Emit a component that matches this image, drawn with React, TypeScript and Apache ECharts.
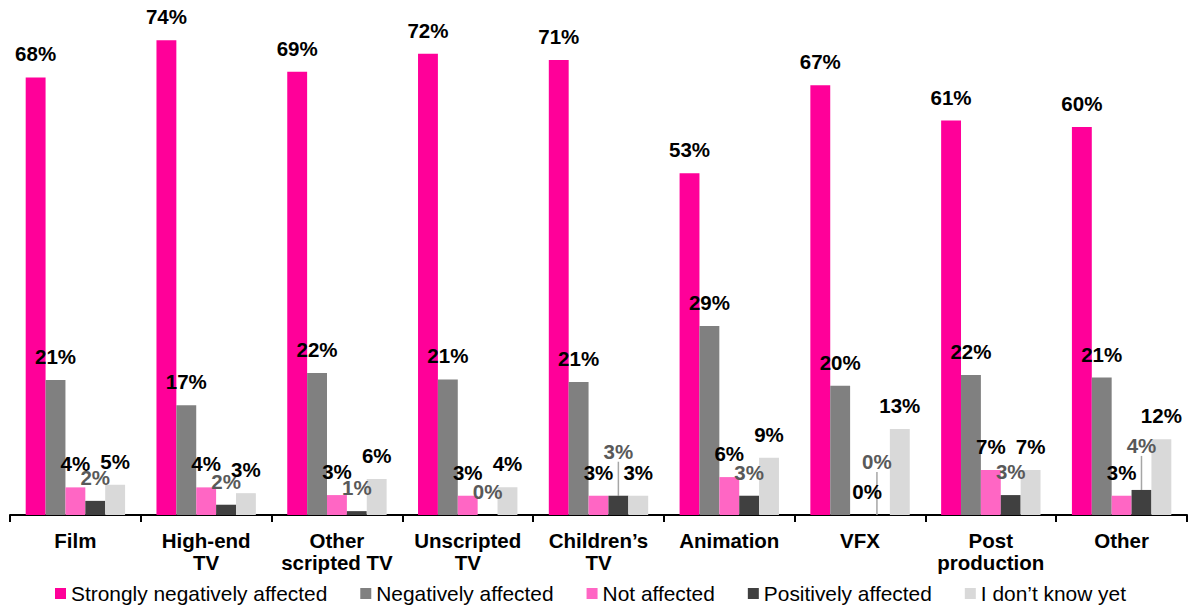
import React, { useEffect, useRef } from "react";
import * as echarts from "echarts";

const categories = [
  "Film",
  "High-end\nTV",
  "Other\nscripted TV",
  "Unscripted\nTV",
  "Children’s\nTV",
  "Animation",
  "VFX",
  "Post\nproduction",
  "Other",
];
const seriesNames = [
  "Strongly negatively affected",
  "Negatively affected",
  "Not affected",
  "Positively affected",
  "I don’t know yet",
];
const stronglyNegative = [68.1, 73.9, 69.0, 71.8, 70.8, 53.2, 66.9, 61.4, 60.4];
const negative = [21.0, 17.1, 22.1, 21.1, 20.7, 29.4, 20.1, 21.8, 21.4];
const notAffected = [4.3, 4.3, 3.1, 3.0, 3.0, 5.9, 0, 7.0, 3.0];
const positive = [2.2, 1.6, 0.6, 0, 3.0, 3.0, 0, 3.1, 3.9];
const dontKnow = [4.7, 3.4, 5.6, 4.3, 3.0, 8.9, 13.4, 7.0, 11.8];

const colors = ["#FF0099", "#808080", "#FF66C4", "#404040", "#D9D9D9"];

// label adjustments (pixels) for crowded labels
const positiveDy = [0, 0, 0, 0, -21, 0, -30, 0, -21];
const positiveDx = [0, 0, 0, 0, 0, 0, -3, 0, 0];
const notAffectedDx = [0, 0, 0, 0, 0, 0, 7, 0, 0];

export default function App() {
  const ref = useRef<HTMLDivElement>(null);
  useEffect(() => {
    document.body.style.margin = "0";
    const chart = echarts.init(ref.current!, null, { renderer: "svg" });
    const font = "'Liberation Sans', Arial, sans-serif";
    const labelBase = {
      show: true,
      position: "top",
      distance: 13,
      fontFamily: font,
      fontSize: 20.5,
      fontWeight: "bold",
      color: "#000",
      formatter: (p: any) => Math.round(p.value) + "%",
    };
    const data = [stronglyNegative, negative, notAffected, positive, dontKnow];
    const series = data.map((d, i) => {
      const s: any = {
        name: seriesNames[i],
        type: "bar",
        data: d,
        barGap: "0%",
        barCategoryGap: "24%",
        itemStyle: { color: colors[i] },
        label: { ...labelBase },
      };
      if (i === 3) {
        s.data = d.map((v, k) => ({
          value: v,
          labelLine: { show: positiveDy[k] !== 0 },
        }));
        s.label.color = "#595959";
        s.labelLayout = (p: any) => ({
          dx: positiveDx[p.dataIndex],
          dy: positiveDy[p.dataIndex],
        });
        s.labelLine = {
          show: true,
          lineStyle: { color: "#A6A6A6", width: 1.5 },
        };
      }
      if (i === 2) {
        s.labelLayout = (p: any) => ({ dx: notAffectedDx[p.dataIndex] });
      }
      return s;
    });
    chart.setOption({
      animation: false,
      grid: { left: 10, right: 1, top: 1, bottom: 93 },
      legend: {
        left: 50,
        top: 578,
        itemWidth: 11,
        itemHeight: 11,
        itemGap: 33,
        icon: "rect",
        textStyle: { fontFamily: font, fontSize: 20.9, color: "#000" },
        data: seriesNames,
      },
      xAxis: {
        type: "category",
        data: categories,
        axisLine: { lineStyle: { color: "#000", width: 2 } },
        axisTick: { show: true, length: 7, lineStyle: { color: "#000", width: 2 } },
        axisLabel: {
          margin: 14,
          fontFamily: font,
          fontSize: 20.5,
          fontWeight: "bold",
          color: "#000",
          lineHeight: 22,
          interval: 0,
        },
      },
      yAxis: { type: "value", min: 0, max: 80, show: false },
      series,
    });
    return () => chart.dispose();
  }, []);
  return <div ref={ref} style={{ width: 1188, height: 608 }} />;
}
